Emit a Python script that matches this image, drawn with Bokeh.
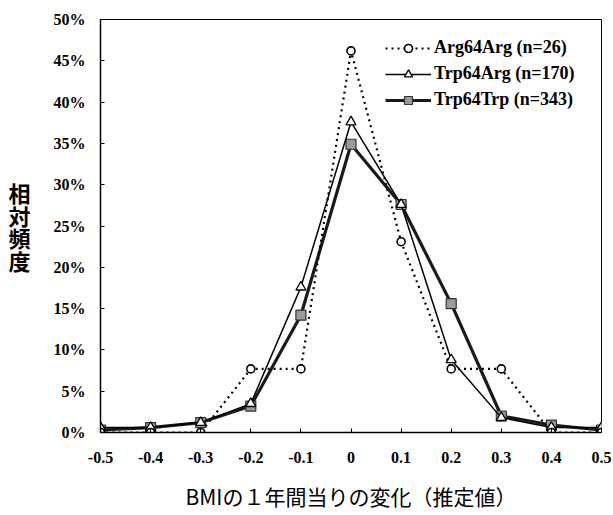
from bokeh.plotting import figure
from bokeh.models import (Range1d, FixedTicker, CustomJSTickFormatter, PrintfTickFormatter,
                          Legend, LegendItem)
from bokeh.embed import file_html
from bokeh.resources import INLINE

# ---- data (percent) ----
x_vals = [-0.5, -0.4, -0.3, -0.2, -0.1, 0.0, 0.1, 0.2, 0.3, 0.4, 0.5]
arg_arg = [0.0, 0.0, 0.0, 7.7, 7.7, 46.2, 23.1, 7.7, 7.7, 0.0, 0.0]
trp_arg = [0.6, 0.6, 1.2, 3.5, 17.6, 37.6, 27.6, 8.8, 1.8, 0.6, 0.6]
trp_trp = [0.3, 0.6, 1.2, 3.2, 14.2, 34.9, 27.6, 15.6, 2.0, 0.9, 0.3]
y_ticks = [0, 5, 10, 15, 20, 25, 30, 35, 40, 45, 50]
series_names = ["Arg64Arg (n=26)", "Trp64Arg (n=170)", "Trp64Trp (n=343)"]
y_label = "相\n対\n頻\n度"
x_label = "BMIの１年間当りの変化（推定値）"

SERIF = "Liberation Serif"
p = figure(width=613, height=515, x_range=Range1d(-0.5, 0.5), y_range=Range1d(0, 50),
           output_backend="svg", toolbar_location=None,
           min_border_left=100, min_border_right=12, min_border_top=19, min_border_bottom=83)
p.background_fill_color = "white"
p.border_fill_color = "white"
p.outline_line_color = "black"
p.outline_line_width = 1
p.xgrid.visible = False
p.ygrid.visible = False

# axes
p.xaxis.ticker = FixedTicker(ticks=x_vals)
p.xaxis.formatter = CustomJSTickFormatter(code="""
const v = Math.round(tick*10)/10;
return v === 0 ? "0" : v.toFixed(1);
""")
p.yaxis.ticker = FixedTicker(ticks=y_ticks)
p.yaxis.formatter = PrintfTickFormatter(format="%d%%")
for ax in (p.xaxis[0], p.yaxis[0]):
    ax.axis_line_color = "black"
    ax.axis_line_width = 1.5
    ax.major_tick_in = 4
    ax.major_tick_out = 0
    ax.minor_tick_in = 0
    ax.minor_tick_out = 0
    ax.major_tick_line_color = "black"
    ax.major_label_text_font = SERIF
    ax.major_label_text_font_style = "bold"
    ax.major_label_text_font_size = "16px"
    ax.major_label_text_color = "black"
p.xaxis.major_label_standoff = 19
p.yaxis.major_label_standoff = 15

p.xaxis.axis_label = x_label
p.xaxis.axis_label_text_font = "Noto Sans CJK JP"
p.xaxis.axis_label_text_font_style = "normal"
p.xaxis.axis_label_text_font_size = "21px"
p.xaxis.axis_label_text_color = "black"
p.xaxis.axis_label_standoff = 15

p.yaxis.axis_label = y_label
p.yaxis.axis_label_orientation = "horizontal"
p.yaxis.axis_label_text_font = "Noto Sans CJK JP"
p.yaxis.axis_label_text_font_style = "bold"
p.yaxis.axis_label_text_font_size = "22px"
p.yaxis.axis_label_text_line_height = 0.71
p.yaxis.axis_label_text_color = "black"
p.yaxis.axis_label_standoff = 20

# series
r3l = p.line(x_vals, trp_trp, line_color="#1a1a1a", line_width=3.2)
r3m = p.scatter(x_vals, trp_trp, marker="square", size=10, fill_color="#9a9a9a",
                line_color="#333333", line_width=1.2)
r2l = p.line(x_vals, trp_arg, line_color="black", line_width=1.5)
r2m = p.scatter(x_vals, trp_arg, marker="triangle", size=10, fill_color="white",
                line_color="black", line_width=1.3)
r1l = p.line(x_vals, arg_arg, line_color="black", line_width=2.2, line_dash="2 4")
r1m = p.scatter(x_vals, arg_arg, marker="circle", size=8, fill_color="white",
                line_color="black", line_width=1.6)

legend = Legend(items=[LegendItem(label=series_names[0], renderers=[r1l, r1m]),
                       LegendItem(label=series_names[1], renderers=[r2l, r2m]),
                       LegendItem(label=series_names[2], renderers=[r3l, r3m])],
                location=(285, 322))
legend.background_fill_alpha = 0
legend.border_line_alpha = 0
legend.padding = 0
legend.margin = 0
legend.spacing = 5
legend.glyph_width = 46
legend.glyph_height = 20
legend.label_height = 20
legend.label_standoff = 3
legend.label_text_font = SERIF
legend.label_text_font_style = "bold"
legend.label_text_font_size = "18px"
legend.label_text_color = "black"
p.add_layout(legend)

open("out.html", "w").write(file_html(p, INLINE))
